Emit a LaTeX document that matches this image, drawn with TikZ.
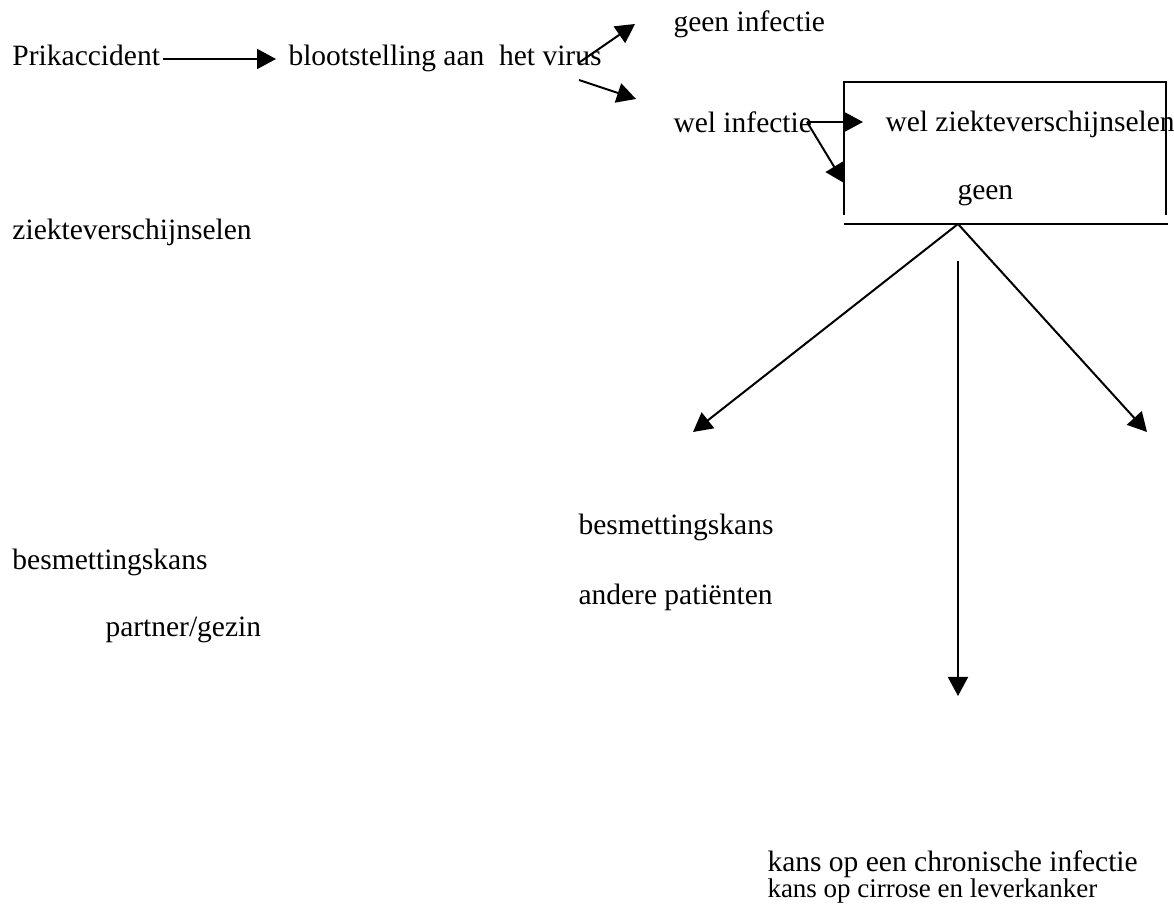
\documentclass[tikz,border=0pt]{standalone}
\usepackage{fontspec}
\setmainfont{Liberation Serif}
\usetikzlibrary{arrows.meta}
\tikzset{lbl/.style={anchor=base west, inner sep=0pt, font=\fontsize{11.8}{14}\selectfont},
  tip/.style={-{Triangle[length=7.6pt, width=8pt]}, line width=0.8pt}}

\begin{document}
\begin{tikzpicture}[x=0.4pt, y=-0.4pt]
\useasboundingbox (0,0) rectangle (1174,910);
% texts of the chain
\node[lbl] (prik) at (12,66) {Prikaccident};
\node[lbl] (bloot) at (288,66) {blootstelling aan\ \ het virus};
\node[lbl] (geeninf) at (673,32) {geen infectie};
\node[lbl] (welinf) at (673,133) {wel infectie};
\node[lbl] (welziek) at (885,132) {wel ziekteverschijnselen};
\node[lbl] (geen) at (957,200) {geen};
\node[lbl] (ziekte) at (12,240) {ziekteverschijnselen};
\node[lbl] (besmB) at (578,535) {besmettingskans};
\node[lbl] (andere) at (578,605) {andere patiënten};
\node[lbl] (besmA) at (12,570) {besmettingskans};
\node[lbl] (partner) at (105,637) {partner/gezin};
\node[lbl] (kansA) at (767,872) {kans op een chronische infectie};
\node[lbl, font=\fontsize{10.8}{13}\selectfont] (kansB) at (767,898) {kans op cirrose en leverkanker};
% box round the symptoms
\draw[line width=0.6pt] (844,215) |- (1166,82) -- (1166,215);
\draw[line width=0.6pt] (844,224) -- (1168,224);
% free ends of the arrows
\coordinate (pA) at (163,59);
\coordinate (bA) at (276,59);
\coordinate (vA) at (580,62);
\coordinate (gA) at (635,24);
\coordinate (vB) at (579,80);
\coordinate (wA) at (636,99);
\coordinate (iA) at (807,122);
\coordinate (zA) at (863,122);
\coordinate (zB) at (844,183);
\coordinate (apex) at (958,224);
\coordinate (left) at (693,432);
\coordinate (right) at (1147,432);
\coordinate (top) at (958,261);
\coordinate (bottom) at (958,696);
\draw[tip] (pA) -- (bA);
\draw[tip] (vA) -- (gA);
\draw[tip] (vB) -- (wA);
\draw[tip] (iA) -- (zA);
\draw[tip] (iA) -- (zB);
\draw[tip] (apex) -- (left);
\draw[tip] (apex) -- (right);
\draw[tip] (top) -- (bottom);
\end{tikzpicture}
\end{document}
